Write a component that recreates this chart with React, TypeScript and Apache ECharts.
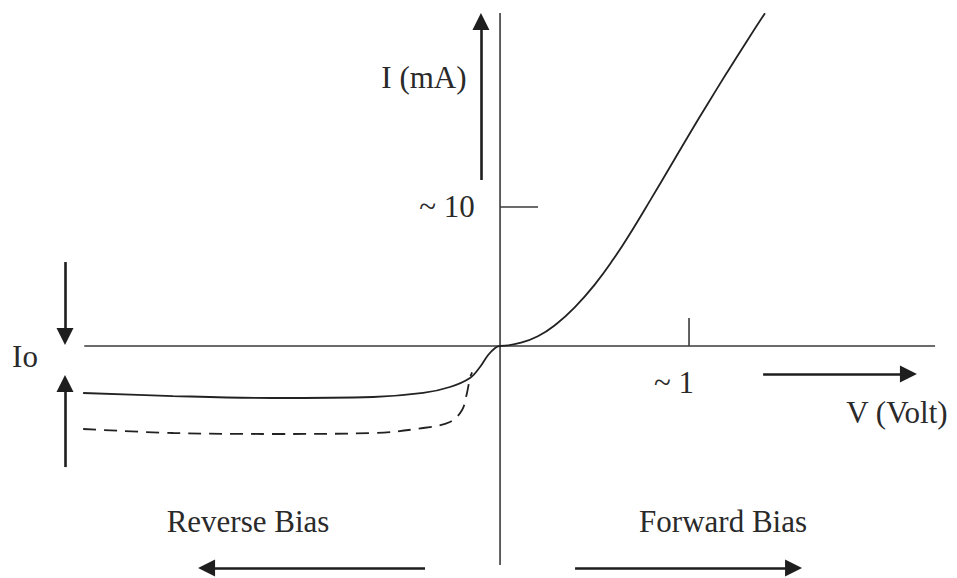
import React, { useEffect, useRef } from "react";
import * as echarts from "echarts";

// Visible extent of the drawing in data units (volts, mA)
const xRange = [-2.646, 2.418];
const yRange = [-16.69, 24.89];

// Axis lines
const hAxisV = [-2.2, 2.302];
const vAxisI = [-15.76, 23.96];

// Tick marks
const tick10 = [[0, 10], [0.201, 10]];
const tick1 = [[1, 0], [1, 2.01]];
const tickLabels = ["~ 10", "~ 1"];

// Forward characteristic
const fwdV = [0, 0.1, 0.2, 0.3, 0.4, 0.5, 0.6, 0.7, 0.8, 0.9, 1.0, 1.1, 1.2, 1.3, 1.402];
const fwdI = [0, 0.2, 0.7, 1.6, 2.85, 4.4, 6.25, 8.35, 10.6, 12.9, 15.2, 17.45, 19.65, 21.8, 23.94];

// Reverse characteristic (solid)
const revV = [-2.206, -1.73, -1.201, -0.672, -0.407, -0.265, -0.159, -0.106, -0.063, -0.026, 0];
const revI = [-3.38, -3.6, -3.74, -3.67, -3.38, -2.95, -2.3, -1.51, -0.65, -0.14, 0];

// Reverse characteristic (dashed)
const dashV = [-2.206, -1.73, -1.201, -0.672, -0.407, -0.265, -0.201, -0.175, -0.159, -0.148];
const dashI = [-5.97, -6.26, -6.33, -6.26, -5.9, -5.47, -4.6, -3.38, -2.3, -1.9];

// Arrows: [fromV, fromI, tipV, tipI]
const arrows = [
  [-2.302, 6.04, -2.302, 0.07],
  [-2.302, -8.71, -2.302, -2.09],
  [-0.101, 11.94, -0.101, 23.96],
  [1.392, -2.01, 2.206, -2.01],
  [-0.397, -15.97, -1.598, -15.97],
  [0.397, -15.97, 1.598, -15.97],
];

const W = 957;
const H = 578;
const HEAD = 17;

const zip = (a: number[], b: number[]) => a.map((v, i) => [v, b[i]]);

export default function App() {
  const ref = useRef<HTMLDivElement>(null);
  useEffect(() => {
    if (!ref.current) return;
    const chart = echarts.init(ref.current, undefined, { renderer: "svg" });
    const pxV = W / (xRange[1] - xRange[0]);
    const pxI = H / (yRange[1] - yRange[0]);
    const toPx = (v: number, i: number) => [(v - xRange[0]) * pxV, (yRange[1] - i) * pxI];

    const arrowLines = arrows.map(([v1, i1, v2, i2]) => {
      const dx = (v2 - v1) * pxV;
      const dy = (i2 - i1) * pxI;
      const len = Math.sqrt(dx * dx + dy * dy);
      const k = HEAD / 2 / len;
      const ev = v2 - (v2 - v1) * k;
      const ei = i2 - (i2 - i1) * k;
      return [{ coord: [v1, i1] }, { coord: [ev, ei] }];
    });

    const font = '31px "Liberation Serif", "Times New Roman", serif';
    const txt = (text: string, v: number, i: number, dx: number, dy: number) => {
      const p = toPx(v, i);
      return {
        type: "text",
        x: p[0] + dx,
        y: p[1] + dy,
        silent: true,
        style: { text, font, fill: "#2a2a2a", align: "center", verticalAlign: "middle" },
      };
    };

    const lineBase = {
      type: "line",
      symbol: "none",
      silent: true,
      animation: false,
    };

    chart.setOption({
      animation: false,
      grid: { left: 0, right: 0, top: 0, bottom: 0 },
      xAxis: { type: "value", min: xRange[0], max: xRange[1], show: false },
      yAxis: { type: "value", min: yRange[0], max: yRange[1], show: false },
      series: [
        { ...lineBase, name: "hAxis", data: [[hAxisV[0], 0], [hAxisV[1], 0]], lineStyle: { color: "#3a3a3a", width: 1.6 } },
        { ...lineBase, name: "vAxis", data: [[0, vAxisI[0]], [0, vAxisI[1]]], lineStyle: { color: "#3a3a3a", width: 1.6 } },
        { ...lineBase, name: "tick10", data: tick10, lineStyle: { color: "#3a3a3a", width: 1.6 } },
        { ...lineBase, name: "tick1", data: tick1, lineStyle: { color: "#3a3a3a", width: 1.6 } },
        { ...lineBase, name: "forward", data: zip(fwdV, fwdI), smooth: 0.5, lineStyle: { color: "#222", width: 1.8 } },
        { ...lineBase, name: "reverse", data: zip(revV, revI), smooth: 0.35, lineStyle: { color: "#222", width: 1.8 } },
        { ...lineBase, name: "reverseDashed", data: zip(dashV, dashI), smooth: 0.35, lineStyle: { color: "#222", width: 1.8, type: [13, 8] } },
        {
          ...lineBase,
          name: "arrows",
          data: [],
          markLine: {
            silent: true,
            animation: false,
            symbol: ["none", "triangle"],
            symbolSize: HEAD,
            label: { show: false },
            itemStyle: { color: "#1e1e1e" },
            lineStyle: { color: "#1e1e1e", width: 2.6, type: "solid" },
            data: arrowLines,
          },
        },
      ],
      graphic: [
        txt("I (mA)", -0.101, 0, -57, -268),
        txt(tickLabels[0], 0, 10, -53, 0),
        txt(tickLabels[1], 1, 0, -15, 37),
        txt("V (Volt)", 2.206, -2.01, -20, 39),
        txt("Io", -2.302, 0, -40, 11),
        txt("Reverse Bias", -0.397, -15.97, -177, -46),
        txt("Forward Bias", 0.397, -15.97, 148, -46),
      ],
    });
    return () => chart.dispose();
  }, []);
  return <div ref={ref} style={{ position: "fixed", left: 0, top: 0, width: W, height: H, background: "#fff" }} />;
}
